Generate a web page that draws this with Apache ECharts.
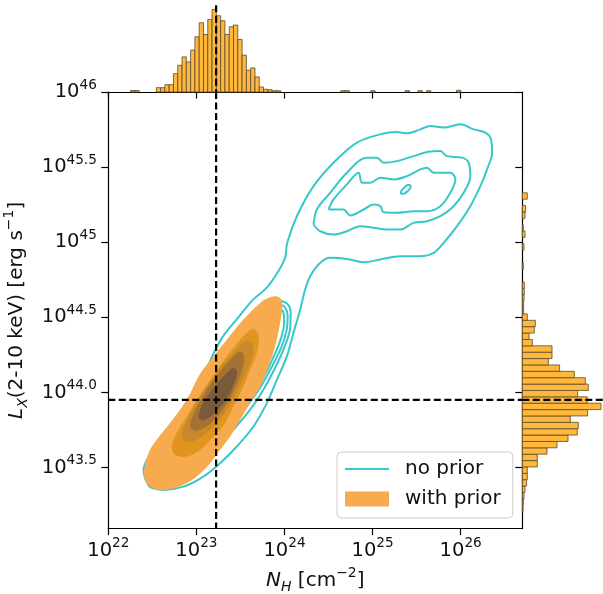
<!DOCTYPE html>
<html><head><meta charset="utf-8">
<script src="https://cdn.jsdelivr.net/npm/echarts@6/dist/echarts.min.js"></script>
<style>html,body{margin:0;padding:0;background:#fff}#c{width:603px;height:594px}</style>
</head><body><div id="c"></div>
<script>
// ---------------- DATA (log10 units) ----------------
const xTickValues = [22, 23, 24, 25, 26];
const xTickExps = ['22', '23', '24', '25', '26'];
const yTickValues = [43.5, 44.0, 44.5, 45.0, 45.5, 46.0];
const yTickExps = ['43.5', '44.0', '44.5', '45', '45.5', '46'];
const xRange = [22, 26.7];
const yRange = [43.093, 46];

const refNH = 23.224;   // dashed vertical (log NH)
const refLx = 43.951;   // dashed horizontal (log Lx)

// top marginal histogram of log NH (with prior)
const nhBinStart = 22.204, nhBinWidth = 0.0487;
const nhCounts = [
  0,1.5,1.5,0,0,0,0,4.3,4.3,7.3,
  7.3,18.3,26.7,35,30,41.7,55,69,57.3,72.3,
  82.3,76,71,57.3,65,66.7,52.3,36.7,21.7,24,
  15,5,2.7,2.3,1.3,1.3,0,0,0,0,
  0,0,0,0,0,0,0,0,0,0,
  1.3,1.3,0,0,0,0,0,1.3,0,0,
  0,0,0,0,0,1.3,0,0,1.3,0,
  1.3,0,0,0,0,0,0,1.7
];
// right marginal histogram of log Lx (with prior)
const lxBinStart = 43.207, lxBinWidth = 0.04244;
const lxCounts = [
  0.7,1,1.7,2.7,4.3,5,5,15,15,24.7,
  34.7,45.7,55,56,48,65.3,78.7,65,55.3,66,
  63,52,37.3,26,29.7,29.7,10,6.7,12,13,
  5,1.3,1.3,1.7,2,2,0,0,1,0,
  0,1.7,0,2.7,1,0,2.7,3.3,0,5
];

// "no prior" KDE contour lines, [log NH, log Lx]
const noPriorOuter = [
  [22.474,43.368],[22.425,43.418],[22.400,43.485],[22.474,43.585],[22.610,43.685],[22.792,43.798],
  [22.985,43.951],[23.099,44.098],[23.150,44.200],[23.292,44.365],[23.474,44.498],[23.644,44.618],
  [23.800,44.698],[23.928,44.805],[24.008,44.898],[24.031,44.996],[24.141,45.173],[24.330,45.373],
  [24.557,45.529],[24.823,45.663],[25.088,45.718],[25.277,45.733],[25.391,45.725],[25.542,45.751],
  [25.656,45.773],[25.807,45.763],[25.997,45.785],[26.148,45.751],[26.281,45.729],[26.345,45.685],
  [26.357,45.596],[26.300,45.485],[26.224,45.373],[26.110,45.240],[25.959,45.107],[25.807,44.996],
  [25.693,44.929],[25.542,44.907],[25.315,44.907],[25.088,44.885],[24.898,44.867],[24.709,44.889],
  [24.519,44.896],[24.406,44.863],[24.292,44.773],[24.235,44.685],[24.178,44.551],[24.102,44.396],
  [24.027,44.240],[23.914,44.085],[23.800,43.929],[23.648,43.773],[23.459,43.640],[23.269,43.529],
  [23.080,43.440],[22.852,43.373],[22.625,43.351],[22.474,43.368]
];
const noPriorUpperL2 = [
  [24.330,45.118],[24.368,45.218],[24.519,45.329],[24.709,45.463],[24.936,45.563],[25.050,45.563],
  [25.125,45.529],[25.277,45.540],[25.466,45.573],[25.618,45.600],[25.769,45.607],[25.845,45.573],
  [26.016,45.563],[26.091,45.529],[26.110,45.440],[26.034,45.329],[25.920,45.240],[25.769,45.173],
  [25.618,45.140],[25.466,45.129],[25.315,45.085],[25.164,45.085],[25.011,45.096],[24.860,45.107],
  [24.709,45.073],[24.557,45.051],[24.406,45.073],[24.330,45.118]
];
const noPriorUpperL3 = [
  [24.500,45.218],[24.557,45.285],[24.709,45.385],[24.841,45.463],[24.880,45.396],[24.974,45.396],
  [25.088,45.429],[25.239,45.418],[25.391,45.440],[25.542,45.485],[25.618,45.496],[25.693,45.463],
  [25.883,45.463],[25.940,45.418],[25.883,45.329],[25.769,45.240],[25.618,45.207],[25.466,45.207],
  [25.277,45.196],[25.125,45.200],[25.088,45.240],[25.011,45.251],[24.898,45.218],[24.747,45.178],
  [24.670,45.218],[24.557,45.218],[24.500,45.218]
];
const noPriorUpperL4 = [
  [25.432,45.381],[25.430,45.363],[25.397,45.339],[25.352,45.322],[25.323,45.322],[25.325,45.339],
  [25.358,45.363],[25.402,45.381],[25.432,45.381]
];
const noPriorLowerL2 = [
  [23.951,44.611],[24.031,44.591],[24.070,44.538],[24.065,44.431],[23.997,44.298],[23.883,44.151],
  [23.747,44.005],[23.610,43.885],[23.440,43.765],[23.247,43.651],[23.042,43.565],[22.837,43.511],
  [22.678,43.498],[22.588,43.551],[22.644,43.651],[22.792,43.785],[22.963,43.938],[23.133,44.085],
  [23.315,44.231],[23.519,44.385],[23.701,44.505],[23.838,44.585],[23.951,44.611]
];
const noPriorLowerL3 = [
  [23.940,44.591],[24.008,44.565],[24.036,44.511],[24.025,44.418],[23.963,44.298],[23.838,44.151],
  [23.701,44.011],[23.542,43.885],[23.360,43.765],[23.156,43.665],[22.963,43.605],[22.815,43.591],
  [22.769,43.645],[22.849,43.751],[22.997,43.885],[23.167,44.031],[23.349,44.185],[23.531,44.325],
  [23.701,44.445],[23.838,44.538],[23.940,44.591]
];
const noPriorLowerL4 = [
  [23.928,44.565],[23.985,44.538],[23.997,44.471],[23.963,44.365],[23.883,44.245],[23.769,44.111],
  [23.633,43.985],[23.474,43.865],[23.292,43.765],[23.122,43.705],[23.019,43.711],[23.019,43.778],
  [23.122,43.885],[23.269,44.018],[23.440,44.165],[23.610,44.305],[23.758,44.431],[23.860,44.518],
  [23.928,44.565]
];

// "with prior" filled KDE levels (outer -> inner), [log NH, log Lx]
const withPriorL1 = [
  [23.894,44.640],[23.951,44.629],[23.974,44.591],[23.970,44.538],[23.951,44.463],[23.894,44.307],
  [23.818,44.173],[23.724,44.040],[23.610,43.929],[23.497,43.818],[23.383,43.707],[23.269,43.618],
  [23.156,43.529],[23.005,43.440],[22.852,43.385],[22.664,43.351],[22.531,43.356],[22.436,43.396],
  [22.406,43.463],[22.455,43.596],[22.550,43.685],[22.701,43.796],[22.891,43.951],[23.042,44.125],
  [23.193,44.240],[23.345,44.351],[23.534,44.485],[23.724,44.596],[23.815,44.628]
];
const withPriorL2 = [
  [23.648,44.423],[23.705,44.391],[23.695,44.285],[23.610,44.151],[23.516,44.018],[23.420,43.907],
  [23.326,43.796],[23.193,43.707],[23.042,43.618],[22.891,43.573],[22.758,43.585],[22.720,43.640],
  [22.777,43.729],[22.891,43.840],[23.005,43.951],[23.156,44.085],[23.345,44.240],[23.497,44.351],
  [23.591,44.407]
];
const withPriorL3 = [
  [23.588,44.345],[23.644,44.311],[23.622,44.218],[23.542,44.105],[23.451,43.991],[23.349,43.885],
  [23.224,43.791],[23.088,43.718],[22.951,43.671],[22.860,43.678],[22.837,43.738],[22.906,43.831],
  [23.008,43.938],[23.133,44.051],[23.269,44.165],[23.406,44.258],[23.508,44.318]
];
const withPriorL4 = [
  [23.497,44.271],[23.542,44.245],[23.519,44.151],[23.451,44.045],[23.360,43.938],[23.247,43.845],
  [23.110,43.771],[22.985,43.745],[22.928,43.778],[22.974,43.865],[23.065,43.965],[23.178,44.071],
  [23.303,44.165],[23.417,44.238]
];
const withPriorL5 = [
  [23.428,44.165],[23.463,44.131],[23.417,44.045],[23.338,43.951],[23.224,43.871],[23.099,43.818],
  [23.031,43.825],[23.042,43.885],[23.122,43.971],[23.224,44.051],[23.338,44.125]
];

// ---------------- STYLE ----------------
const FONT = 'DejaVu Sans';
const CYAN = '#38c7c9';
const FILLS = ['#f8aa4e', '#e0951f', '#c8892b', '#a57234', '#7b5a3a'];
const HIST_FILL = '#ffb83b', HIST_EDGE = '#5a4a30';
const TXT = '#111111';

const chart = echarts.init(document.getElementById('c'), null, {renderer: 'canvas'});

const supRich = {
  b: {fontSize: 19.5, fontFamily: FONT, color: TXT, lineHeight: 28},
  s: {fontSize: 13.6, fontFamily: FONT, color: TXT, lineHeight: 16, verticalAlign: 'top'}
};
const nameRich = {
  n: {fontSize: 20, fontFamily: FONT, color: TXT, lineHeight: 28},
  i: {fontSize: 20, fontFamily: FONT, fontStyle: 'italic', color: TXT, lineHeight: 28},
  sub: {fontSize: 14, fontFamily: FONT, fontStyle: 'italic', color: TXT, lineHeight: 14, verticalAlign: 'bottom'},
  sup: {fontSize: 14, fontFamily: FONT, color: TXT, lineHeight: 16, verticalAlign: 'top'}
};

const nhBins = nhCounts.map((c, i) => [nhBinStart + i * nhBinWidth, nhBinStart + (i + 1) * nhBinWidth, c]).filter(d => d[2] > 0);
const lxBins = lxCounts.map((c, i) => [lxBinStart + i * lxBinWidth, lxBinStart + (i + 1) * lxBinWidth, c]).filter(d => d[2] > 0);

const noPriorContours = [noPriorOuter, noPriorLowerL2, noPriorLowerL3, noPriorLowerL4, noPriorUpperL2, noPriorUpperL3, noPriorUpperL4];
const withPriorLevels = [withPriorL1, withPriorL2, withPriorL3, withPriorL4, withPriorL5];

const axisLineStyle = {color: '#000', width: 1.2};

const series = [];
noPriorContours.forEach(c => series.push({
  type: 'line', name: 'no prior', xAxisIndex: 0, yAxisIndex: 0,
  data: c, smooth: 0.35, symbol: 'none', showSymbol: false,
  lineStyle: {color: CYAN, width: 2}, itemStyle: {color: CYAN},
  z: 2, silent: true, animation: false
}));
series.push({
  type: 'custom', name: 'with prior', xAxisIndex: 0, yAxisIndex: 0,
  itemStyle: {color: FILLS[0]},
  data: [[0]], z: 3, silent: true, animation: false,
  renderItem: function (params, api) {
    return {
      type: 'group',
      children: withPriorLevels.map((lvl, k) => ({
        type: 'polygon',
        shape: {points: lvl.map(p => api.coord(p)), smooth: 0.35},
        style: {fill: FILLS[k], stroke: null}
      }))
    };
  }
});
// top histogram
series.push({
  type: 'custom', name: 'nhHist', xAxisIndex: 1, yAxisIndex: 1,
  data: nhBins, encode: {x: [0, 1], y: 2}, silent: true, animation: false,
  renderItem: function (params, api) {
    const a = api.coord([api.value(0), 0]);
    const b = api.coord([api.value(1), api.value(2)]);
    return {type: 'rect', shape: {x: a[0], y: b[1], width: b[0] - a[0], height: a[1] - b[1]},
      style: {fill: HIST_FILL, stroke: HIST_EDGE, lineWidth: 0.8}};
  }
});
// right histogram
series.push({
  type: 'custom', name: 'lxHist', xAxisIndex: 2, yAxisIndex: 2,
  data: lxBins, encode: {y: [0, 1], x: 2}, silent: true, animation: false,
  renderItem: function (params, api) {
    const a = api.coord([0, api.value(0)]);
    const b = api.coord([api.value(2), api.value(1)]);
    return {type: 'rect', shape: {x: a[0], y: b[1], width: b[0] - a[0], height: a[1] - b[1]},
      style: {fill: HIST_FILL, stroke: HIST_EDGE, lineWidth: 0.8}};
  }
});
// dashed reference lines
function vLine(xi, yi) {
  return {
    type: 'custom', xAxisIndex: xi, yAxisIndex: yi, data: [[refNH]], z: 10, silent: true, animation: false,
    renderItem: function (params, api) {
      const cs = params.coordSys;
      const x = api.coord([api.value(0), yi === 0 ? 44 : 0])[0];
      return {type: 'line', shape: {x1: x, y1: cs.y, x2: x, y2: cs.y + cs.height},
        style: {stroke: '#000', lineWidth: 2.2, lineDash: [7, 3.5]}};
    }
  };
}
function hLine(xi, yi) {
  return {
    type: 'custom', xAxisIndex: xi, yAxisIndex: yi, data: [[0, refLx]], encode: {x: 0, y: 1}, z: 10, silent: true, animation: false,
    renderItem: function (params, api) {
      const cs = params.coordSys;
      const y = api.coord([xi === 0 ? 23 : 0, api.value(1)])[1];
      return {type: 'line', shape: {x1: cs.x, y1: y, x2: cs.x + cs.width, y2: y},
        style: {stroke: '#000', lineWidth: 2.2, lineDash: [7, 3.5]}};
    }
  };
}
series.push(vLine(0, 0), vLine(1, 1), hLine(0, 0), hLine(2, 2));

const option = {
  animation: false,
  backgroundColor: '#fff',
  grid: [
    {left: 108.3, top: 92, width: 414, height: 436.7, outerBoundsMode: 'none', containLabel: false},
    {left: 108.3, top: 5.3, width: 414, height: 86.7, outerBoundsMode: 'none', containLabel: false},
    {left: 522.3, top: 92, width: 82.6, height: 436.7, outerBoundsMode: 'none', containLabel: false}
  ],
  xAxis: [
    {
      type: 'value', gridIndex: 0, min: xRange[0], max: xRange[1],
      splitLine: {show: false},
      axisLine: {show: true, lineStyle: axisLineStyle, onZero: false},
      axisTick: {show: true, length: 6.5, lineStyle: axisLineStyle, customValues: xTickValues},
      axisLabel: {
        margin: 8, customValues: xTickValues, rich: supRich,
        formatter: v => '{b|10}{s|' + xTickExps[xTickValues.indexOf(v)] + '}'
      },
      name: '{i|N}{sub|H}{n| [cm}{sup|−2}{n|]}',
      nameLocation: 'middle', nameGap: 38,
      nameTextStyle: {rich: nameRich}
    },
    {
      type: 'value', gridIndex: 1, min: xRange[0], max: xRange[1],
      splitLine: {show: false},
      axisLine: {show: true, lineStyle: axisLineStyle, onZero: false},
      axisTick: {show: true, length: 6.5, lineStyle: axisLineStyle, customValues: xTickValues},
      axisLabel: {show: false}
    },
    {type: 'value', gridIndex: 2, min: 0, max: 82.6, show: false}
  ],
  yAxis: [
    {
      type: 'value', gridIndex: 0, min: yRange[0], max: yRange[1],
      splitLine: {show: false},
      axisLine: {show: true, lineStyle: axisLineStyle, onZero: false},
      axisTick: {show: true, length: 7, lineStyle: axisLineStyle, customValues: yTickValues},
      axisLabel: {
        margin: 11.5, customValues: yTickValues, rich: supRich,
        formatter: v => '{b|10}{s|' + yTickExps[yTickValues.indexOf(v)] + '}'
      },
      name: '{i|L}{sub|X}{n|(2-10 keV) [erg s}{sup|−1}{n|]}',
      nameLocation: 'middle', nameGap: 76,
      nameTextStyle: {rich: nameRich}
    },
    {type: 'value', gridIndex: 1, min: 0, max: 86.4, show: false},
    {
      type: 'value', gridIndex: 2, min: yRange[0], max: yRange[1],
      splitLine: {show: false},
      axisLine: {show: true, lineStyle: axisLineStyle, onZero: false},
      axisTick: {show: true, length: 7, lineStyle: axisLineStyle, customValues: yTickValues},
      axisLabel: {show: false}
    }
  ],
  legend: {
    data: [{name: 'no prior', itemStyle: {opacity: 0}}, {name: 'with prior', icon: 'rect', itemStyle: {color: FILLS[0]}}],
    orient: 'vertical', left: 337, top: 452,
    padding: [6, 12, 8, 7], itemGap: 8, itemWidth: 44, itemHeight: 15,
    backgroundColor: 'rgba(255,255,255,0.8)', borderColor: '#cccccc', borderWidth: 1, borderRadius: 4,
    selectedMode: false,
    textStyle: {fontSize: 20, fontFamily: FONT, color: TXT, lineHeight: 22, padding: [0, 0, 0, 11]}
  },
  series: series
};
chart.setOption(option);
</script></body></html>
